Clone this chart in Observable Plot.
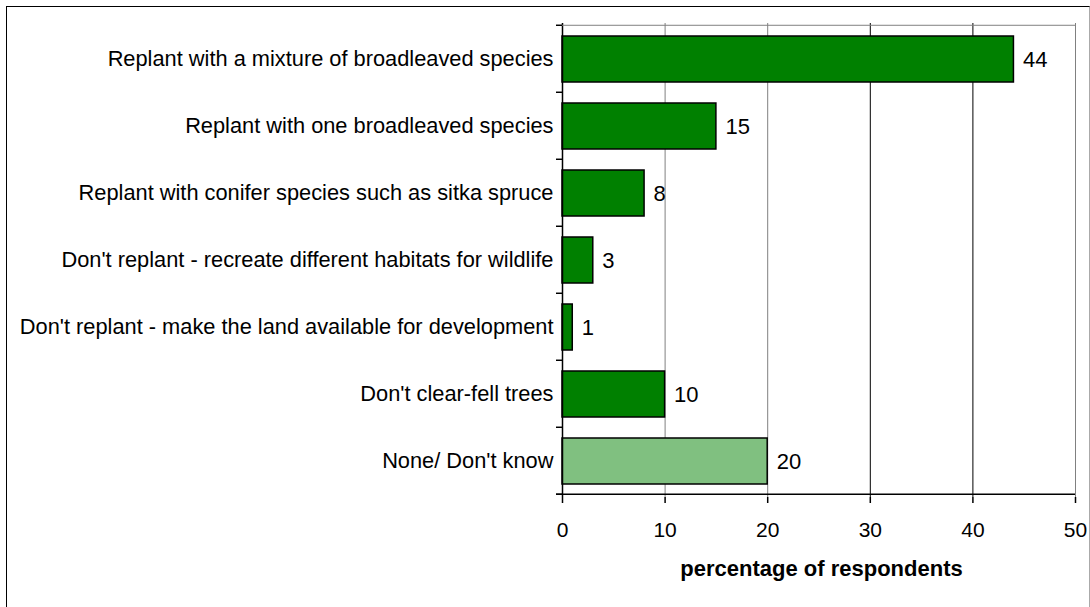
<!DOCTYPE html>
<html><head><meta charset="utf-8">
<script src="https://cdn.jsdelivr.net/npm/d3@7"></script>
<script src="https://cdn.jsdelivr.net/npm/@observablehq/plot@0.6"></script>
<style>
body{margin:0;background:#fff;}
#wrap{position:relative;width:1090px;height:607px;overflow:hidden;}
#frame{position:absolute;left:6px;top:6px;width:1084px;height:620px;border-left:1.5px solid #000;border-top:1.5px solid #000;border-right:1px solid #aaa;box-sizing:border-box;pointer-events:none;}
svg{font-family:"Liberation Sans",Arial,sans-serif;}
</style></head>
<body><div id="wrap"><div id="frame"></div></div>
<script>
const categories = [
  "Replant with a mixture of broadleaved species",
  "Replant with one broadleaved species",
  "Replant with conifer species such as sitka spruce",
  "Don't replant - recreate different habitats for wildlife",
  "Don't replant - make the land available for development",
  "Don't clear-fell trees",
  "None/ Don't know"
];
const values = [44, 15, 8, 3, 1, 10, 20];
const kinds = ["option","option","option","option","option","option","none"];
const xTicks = [0, 10, 20, 30, 40, 50];
const grayGrid = [10, 20, 50];
const darkGrid = [30, 40];
const xLabel = "percentage of respondents";

const data = categories.map((c, i) => ({category: c, value: values[i], kind: kinds[i]}));

const plot = Plot.plot({
  width: 1090, height: 607,
  marginLeft: 562, marginRight: 15, marginTop: 23, marginBottom: 110,
  style: {fontFamily: '"Liberation Sans", Arial, sans-serif', fontSize: "21.8px", background: "transparent", color: "#000"},
  x: {domain: [0, 50], label: null},
  y: {domain: categories, paddingInner: 0.32, paddingOuter: 0.16, label: null},
  color: {domain: ["option","none"], range: ["#008000", "#80c080"]},
  marks: [
    Plot.ruleX(grayGrid, {stroke: "#808080", strokeWidth: 1}),
    Plot.ruleX(darkGrid, {stroke: "#000", strokeWidth: 1}),
    Plot.barX(data, {x: "value", y: "category", fill: "kind", stroke: "#000", strokeWidth: 1.5}),
    Plot.text(data, {x: "value", y: "category", text: d => String(d.value), dx: 9, textAnchor: "start", fontSize: 22, fill: "#000"}),
    Plot.axisX({ticks: xTicks, tickSize: 6, tickPadding: 19, fontSize: 21, label: null, stroke: "#000", strokeWidth: 1.5}),
    Plot.axisY({tickSize: 0, tickPadding: 9, fontSize: 21.8, label: null}),
    Plot.ruleX([0], {stroke: "#000", strokeWidth: 1.5})
  ]
});

// Band boundary ticks, top frame line and bottom axis line from the library's scales
const svg = d3.select(plot);
const xs = plot.scale("x"), ys = plot.scale("y");
const x0 = xs.apply(0), x50 = xs.apply(50);
const step = ys.step;
const yTop = ys.apply(categories[0]) - 0.16 * step;
const boundaries = d3.range(categories.length + 1).map(i => yTop + i * step);
const g = svg.append("g");
g.append("line").attr("x1", x0).attr("x2", x50).attr("y1", yTop).attr("y2", yTop).attr("stroke", "#808080");
const yb = boundaries[boundaries.length - 1];
g.append("line").attr("x1", x0 - 6).attr("x2", x50).attr("y1", yb).attr("y2", yb).attr("stroke", "#000").attr("stroke-width", 1.5);
boundaries.forEach(b => g.append("line").attr("x1", x0 - 6).attr("x2", x0).attr("y1", b).attr("y2", b).attr("stroke", "#000").attr("stroke-width", 1.5));
svg.append("text").attr("x", (x0 + x50) / 2 + 3).attr("y", 576).attr("text-anchor", "middle")
  .attr("font-size", 22).attr("font-weight", "bold").attr("fill", "#000").text(xLabel);

document.getElementById("wrap").prepend(plot);
</script></body></html>
